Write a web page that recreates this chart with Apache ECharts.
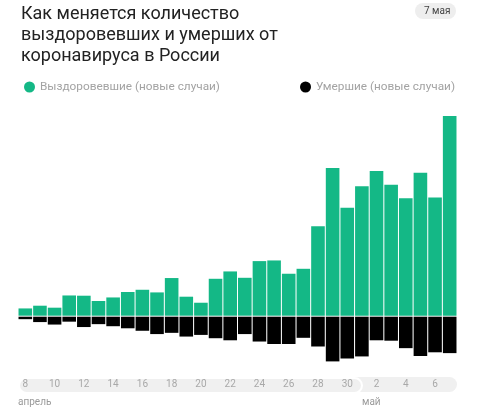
<!DOCTYPE html>
<html>
<head>
<meta charset="utf-8">
<script src="https://cdn.jsdelivr.net/npm/echarts@6/dist/echarts.min.js"></script>
<style>
  html, body { margin: 0; padding: 0; background: #fff; }
  #chart { width: 480px; height: 407px; }
</style>
</head>
<body>
<div id="chart"></div>
<script>
// дни: 8 апреля – 7 мая
var days = ['8','9','10','11','12','13','14','15','16','17','18','19','20','21','22','23','24','25','26','27','28','29','30',
            '1','2','3','4','5','6','7'];
// выздоровевшие, новые случаи за сутки
var recovered = [88, 121, 97, 245, 242, 178, 221, 287, 314, 282, 456, 230, 157, 447, 536, 459, 661, 669, 508, 568,
                 1084, 1789, 1306, 1568, 1753, 1587, 1423, 1732, 1430, 2418];
// умершие, новые случаи за сутки
var deaths = [6, 13, 19, 12, 25, 18, 23, 28, 34, 42, 39, 48, 44, 52, 57, 42, 60, 66, 66, 51,
              72, 108, 101, 96, 57, 58, 76, 95, 86, 88];

var font = 'Roboto, "Noto Sans", sans-serif';
var green = '#14b886';

var myChart = echarts.init(document.getElementById('chart'));
var option = {
    animation: false,
    textStyle: { fontFamily: font },
    title: {
        text: 'Как меняется количество\nвыздоровевших и умерших от\nкоронавируса в России',
        left: 16,
        top: -1,
        textStyle: { fontSize: 18, fontWeight: 'normal', color: '#222', lineHeight: 21, fontFamily: font }
    },
    legend: [
        {
            data: ['Выздоровевшие (новые случаи)'],
            left: 19, top: 76,
            icon: 'circle', itemWidth: 11, itemHeight: 11, itemGap: 6,
            textStyle: { color: '#a3a3a3', fontSize: 11.8 }
        },
        {
            data: ['Умершие (новые случаи)'],
            right: 20, top: 76,
            icon: 'circle', itemWidth: 11, itemHeight: 11,
            textStyle: { color: '#a3a3a3', fontSize: 11.8 }
        }
    ],
    graphic: [
        // плашка с датой
        { type: 'rect', left: 415, top: 3, shape: { width: 41, height: 16, r: 8 }, style: { fill: '#eeeeee' }, z: 0 },
        { type: 'text', left: 424, top: 6, style: { text: '7 мая', fill: '#444', font: '10px Roboto' } },
        // подложки под подписи оси
        { type: 'rect', left: 340, top: 377, shape: { width: 117, height: 15, r: 7.5 }, style: { fill: '#f0f0f0' }, z: 0 },
        { type: 'rect', left: 18, top: 377, shape: { width: 343, height: 15, r: 7.5 },
          style: { fill: '#f0f0f0', stroke: '#fff', lineWidth: 2 }, z: 1 },
        { type: 'text', left: 18, top: 397, style: { text: 'апрель', fill: '#9a9a9a', font: '10px Roboto' } },
        { type: 'text', left: 362, top: 397, style: { text: 'май', fill: '#9a9a9a', font: '10px Roboto' } }
    ],
    grid: [
        { left: 18, right: 23, top: 116, height: 199.7 },
        { left: 18, right: 23, top: 316.7, height: 44.7 }
    ],
    xAxis: [
        {
            gridIndex: 0, type: 'category', data: days,
            axisLine: { show: false }, axisTick: { show: false }, axisLabel: { show: false }
        },
        {
            gridIndex: 1, type: 'category', data: days,
            axisLine: { show: false }, axisTick: { show: false },
            axisLabel: { interval: 1, margin: 18, color: '#a8a8a8', fontSize: 10 },
            z: 5
        }
    ],
    yAxis: [
        { gridIndex: 0, type: 'value', min: 0, max: 'dataMax', show: false, splitLine: { show: false } },
        { gridIndex: 1, type: 'value', min: 0, max: 'dataMax', inverse: true, show: false, splitLine: { show: false } }
    ],
    series: [
        {
            name: 'Выздоровевшие (новые случаи)', type: 'bar',
            xAxisIndex: 0, yAxisIndex: 0,
            data: recovered, barCategoryGap: '7%',
            itemStyle: { color: green }
        },
        {
            name: 'Умершие (новые случаи)', type: 'bar',
            xAxisIndex: 1, yAxisIndex: 1,
            data: deaths, barCategoryGap: '7%',
            itemStyle: { color: '#000' }
        }
    ]
};
myChart.setOption(option);
</script>
</body>
</html>
